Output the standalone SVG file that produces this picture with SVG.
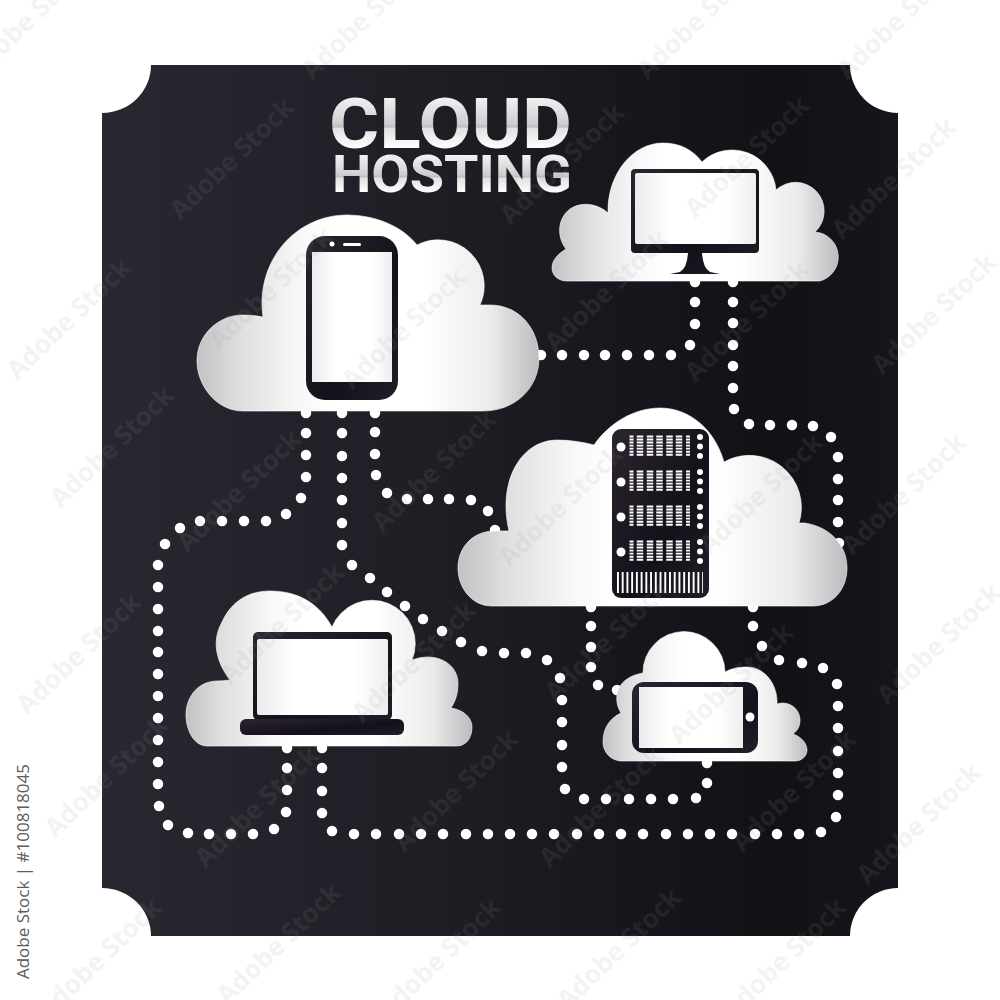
<svg xmlns="http://www.w3.org/2000/svg" xmlns:xlink="http://www.w3.org/1999/xlink" width="1000" height="1000" viewBox="0 0 1000 1000">
<style>
.cloud{fill:url(#cg);stroke:#fff;stroke-width:.6}
.dev{fill:url(#dg)}
.scr{fill:url(#sg)}
.dots{fill:none;stroke:#fff;stroke-width:10.5;stroke-linecap:round}
.title{font-family:Roboto,"Liberation Sans",sans-serif;font-weight:700;fill:url(#tg)}
.wm{font-family:"Open Sans","Liberation Sans",sans-serif;font-weight:700;font-size:26px;fill:#999;opacity:.11;text-anchor:middle}
.wh{fill:#fff}
.bars{stroke:#fff;fill:none;stroke-dasharray:1.9 1.15}
</style>
<defs>
<linearGradient id="bg" x1="0" x2="1" y1="0" y2="0"><stop offset="0" stop-color="#2b2731"/><stop offset=".45" stop-color="#1f1c24"/><stop offset=".85" stop-color="#121116"/><stop offset="1" stop-color="#17151b"/></linearGradient>
<linearGradient id="cg" x1="0" x2="1" y1="0" y2="0"><stop offset="0" stop-color="#c2c1c4"/><stop offset=".12" stop-color="#dedede"/><stop offset=".3" stop-color="#f8f8f8"/><stop offset=".4" stop-color="#fff"/><stop offset=".66" stop-color="#fff"/><stop offset=".86" stop-color="#ebebeb"/><stop offset="1" stop-color="#bcbbbe"/></linearGradient>
<linearGradient id="dg" x1="0" x2="1" y1="0" y2="1"><stop offset="0" stop-color="#2a2530"/><stop offset=".6" stop-color="#15111a"/><stop offset="1" stop-color="#221e28"/></linearGradient>
<linearGradient id="sg" x1="0" x2="1" y1="0" y2="0"><stop offset="0" stop-color="#ececee"/><stop offset=".3" stop-color="#fff"/><stop offset=".75" stop-color="#fff"/><stop offset="1" stop-color="#eeeeef"/></linearGradient>
<linearGradient id="tg" x1="0" x2="0" y1="0" y2="1"><stop offset=".1" stop-color="#fbfbfb"/><stop offset=".5" stop-color="#cfcfd1"/><stop offset=".54" stop-color="#bdbdbf"/><stop offset=".56" stop-color="#e2e2e2"/><stop offset=".8" stop-color="#fff"/><stop offset=".95" stop-color="#b0b0b2"/></linearGradient>
<g id="rack">
<path class="bars" stroke-width="4" d="M631.5 435.5V456"/><path class="bars" stroke-width="6.5" d="M640 435.5V456"/><path class="bars" stroke-width="6.5" d="M650 435.5V456"/><path class="bars" stroke-width="6.5" d="M659.5 435.5V456"/><path class="bars" stroke-width="6.5" d="M669.5 435.5V456"/><path class="bars" stroke-width="6.5" d="M679 435.5V456"/><path class="bars" stroke-width="4" d="M688 435.5V456"/>
<circle class="wh" cx="621" cy="447" r="4.5"/><circle class="wh" cx="700" cy="437" r="3"/><circle class="wh" cx="700" cy="446.500" r="3"/><circle class="wh" cx="700" cy="456" r="3"/>
</g>
</defs>
<rect width="1000" height="1000" fill="#fff"/>
<path d="M151 65H850A48 48 0 0 0 898 113V888A48 48 0 0 0 850 936H151A49 48 0 0 0 102 888V113A49 48 0 0 0 151 65Z" fill="url(#bg)"/>
<g id="title">
<text class="title" x="329" y="148" font-size="71" textLength="243" lengthAdjust="spacingAndGlyphs">CLOUD</text>
<text class="title" x="332" y="192" font-size="52" textLength="240" lengthAdjust="spacingAndGlyphs">HOSTING</text>
</g>
<g id="connectors" class="dots">
<path id="c-phone-monitor" d="M541 355h0M562 355h0M584 355h0M605 355h0M627 355h0M649 355h0M671 355h0M690 345h0M695 324h0M695 302h0M695 282h0"/>
<path id="c-monitor-server" d="M733 282h0M733 302h0M733 323h0M733 345h0M733 366h0M733 388h0M734 409h0M749 424h0M770 425h0M792 425h0M813 426h0M831 437h0M838 457h0M838 479h0M838 500h0M838 522h0M839 543h0"/>
<path id="c-phone-laptop" d="M306 413h0M306 433h0M306 455h0M306 477h0M301 498h0M286 514h0M266 521h0M244 521h0M222 521h0M200 521h0M180 528h0M165 544h0M158 565h0M158 587h0M158 609h0M158 631h0M158 652h0M158 674h0M158 696h0M158 718h0M158 740h0M158 762h0M158 784h0M159 806h0M168 825h0M188 833h0M209 834h0M231 834h0M253 834h0M274 829h0M286 812h0M287 790h0M287 768h0M287 748h0"/>
<path id="c-phone-tablet" d="M342 413h0M342 433h0M342 456h0M342 478h0M342 500h0M342 523h0M342 545h0M352 565h0M370 578h0M387 592h0M405 606h0M423 619h0M442 631h0M461 642h0M482 651h0M504 653h0M526 653h0M547 660h0M560 678h0M562 700h0M562 722h0M562 745h0M562 767h0M565 789h0M584 799h0M606 799h0M629 799h0M651 799h0M673 799h0M696 798h0M707 783h0M707 763h0"/>
<path id="c-phone-server" d="M375 413h0M375 432h0M375 454h0M376 475h0M387 493h0M407 499h0M428 499h0M449 499h0M471 500h0M488 511h0M495 530h0"/>
<path id="c-server-tablet" d="M591 607h0M591 626h0M591 647h0M591 667h0M598 685h0M617 690h0"/>
<path id="c-server-laptop" d="M753 607h0M753 626h0M762 646h0M779 660h0M802 663h0M823 668h0M837 684h0M838 706h0M838 728h0M838 751h0M838 773h0M838 795h0M836 817h0M821 832h0M799 834h0M777 834h0M755 834h0M732 834h0M710 834h0M688 834h0M666 834h0M643 834h0M621 834h0M599 834h0M577 834h0M554 834h0M532 834h0M510 834h0M488 834h0M466 834h0M443 834h0M421 834h0M399 834h0M376 834h0M354 834h0M332 831h0M322 813h0M322 791h0M322 768h0M322 748h0"/>
</g>
<g id="node-phone">
<path class="cloud" d="M243 411C216 411 197 385 197 361C197 335 218 315 243 315Q253 315 263 317C255 262 295 215 347 215C375 215 402 226 417 245A46 46 0 0 1 480 305H490C520 305 539 330 539 358C539 388 515 411 483 411Z"/>
<rect class="dev" x="306" y="236" width="92" height="164" rx="19"/>
<rect class="scr" x="312" y="252" width="80" height="130"/>
<rect class="wh" x="343" y="243" width="18" height="3" rx="1.500"/>
<circle class="wh" cx="332" cy="244" r="2.500"/>
</g>
<g id="node-monitor">
<path class="cloud" d="M567 281C558 281 552 275 552 268C552 260 558 254 566 249C556 236 558 218 570 209C582 201 598 204 608 213C607 175 632 143 663 143C680 143 693 150 702 162A44 44 0 0 1 776 190A28 28 0 1 1 815 232A25 25 0 0 1 820 281Z"/>
<path class="dev" d="M635 169H755Q759 169 759 173V249Q759 253 755 253H702Q703 268 710 272L720 274H670L680 272Q687 268 688 253H635Q631 253 631 249V173Q631 169 635 169Z"/>
<rect class="scr" x="635" y="173" width="121" height="71" rx="2"/>
</g>
<g id="node-server">
<path class="cloud" d="M492 606C472 606 458 588 458 568C458 548 472 531 495 531H509C497 480 522 440 557 440C570 440 583 442 594 445C610 422 635 408 660 408C690 408 715 430 724 462A52 52 0 0 1 799 523H805C830 527 847 545 847 568C847 590 832 606 813 606Z"/>
<rect class="dev" x="612" y="429" width="97" height="169" rx="9"/>
<use href="#rack"/><use href="#rack" y="35"/><use href="#rack" y="70"/><use href="#rack" y="105"/>
<path d="M617 582.500H703" stroke="#fff" stroke-width="21" stroke-dasharray="1.900 2.830" fill="none"/>
</g>
<g id="node-laptop">
<path class="cloud" d="M207 746C194 746 186 730 186 715C186 695 200 681 217 681Q224 681 230 680C215 660 212 640 222 622C232 600 250 591 270 591C300 591 320 605 332 627A42 42 0 0 1 412 660Q420 657 427 657C447 657 458 670 458 683C458 693 456 700 451 708C464 710 472 718 472 727C472 738 466 746 457 746Z"/>
<rect class="dev" x="253" y="632" width="139" height="88" rx="5"/>
<rect class="scr" x="257" y="639" width="131" height="76" rx="2"/>
<rect class="dev" x="240" y="719" width="164" height="16" rx="6"/>
</g>
<g id="node-tablet">
<path class="cloud" d="M622 761C611 761 603 752 603 742C603 728 610 718 621 713C616 705 616 697 618 690C622 680 632 675 643 673A41 41 0 0 1 725 672C732 668 740 667 747 667C765 667 778 685 777 704C790 700 800 710 800 720C800 726 798 730 793 734C802 737 807 744 807 750C807 756 802 761 795 761Z"/>
<rect class="dev" x="632" y="682" width="126" height="71" rx="12"/>
<rect class="scr" x="639" y="687" width="104" height="61"/>
<circle class="wh" cx="750" cy="717" r="4.500"/>
</g>
<g id="watermark">
<text class="wm" transform="translate(35 25) rotate(-44)">Adobe Stock</text>
<text class="wm" transform="translate(370 25) rotate(-44)">Adobe Stock</text>
<text class="wm" transform="translate(705 25) rotate(-44)">Adobe Stock</text>
<text class="wm" transform="translate(905 25) rotate(-44)">Adobe Stock</text>
<text class="wm" transform="translate(238 165) rotate(-44)">Adobe Stock</text>
<text class="wm" transform="translate(568 170) rotate(-44)">Adobe Stock</text>
<text class="wm" transform="translate(753 163) rotate(-44)">Adobe Stock</text>
<text class="wm" transform="translate(900 185) rotate(-44)">Adobe Stock</text>
<text class="wm" transform="translate(75 325) rotate(-44)">Adobe Stock</text>
<text class="wm" transform="translate(277 295) rotate(-44)">Adobe Stock</text>
<text class="wm" transform="translate(410 335) rotate(-44)">Adobe Stock</text>
<text class="wm" transform="translate(613 297) rotate(-44)">Adobe Stock</text>
<text class="wm" transform="translate(753 327) rotate(-44)">Adobe Stock</text>
<text class="wm" transform="translate(940 320) rotate(-44)">Adobe Stock</text>
<text class="wm" transform="translate(118 453) rotate(-44)">Adobe Stock</text>
<text class="wm" transform="translate(245 497) rotate(-44)">Adobe Stock</text>
<text class="wm" transform="translate(440 477) rotate(-44)">Adobe Stock</text>
<text class="wm" transform="translate(567 512) rotate(-44)">Adobe Stock</text>
<text class="wm" transform="translate(767 500) rotate(-44)">Adobe Stock</text>
<text class="wm" transform="translate(910 500) rotate(-44)">Adobe Stock</text>
<text class="wm" transform="translate(85 660) rotate(-44)">Adobe Stock</text>
<text class="wm" transform="translate(288 630) rotate(-44)">Adobe Stock</text>
<text class="wm" transform="translate(420 668) rotate(-44)">Adobe Stock</text>
<text class="wm" transform="translate(613 647) rotate(-44)">Adobe Stock</text>
<text class="wm" transform="translate(737 690) rotate(-44)">Adobe Stock</text>
<text class="wm" transform="translate(945 650) rotate(-44)">Adobe Stock</text>
<text class="wm" transform="translate(113 783) rotate(-44)">Adobe Stock</text>
<text class="wm" transform="translate(263 813) rotate(-44)">Adobe Stock</text>
<text class="wm" transform="translate(462 797) rotate(-44)">Adobe Stock</text>
<text class="wm" transform="translate(607 813) rotate(-44)">Adobe Stock</text>
<text class="wm" transform="translate(800 797) rotate(-44)">Adobe Stock</text>
<text class="wm" transform="translate(925 830) rotate(-44)">Adobe Stock</text>
<text class="wm" transform="translate(105 965) rotate(-44)">Adobe Stock</text>
<text class="wm" transform="translate(285 950) rotate(-44)">Adobe Stock</text>
<text class="wm" transform="translate(445 965) rotate(-44)">Adobe Stock</text>
<text class="wm" transform="translate(625 955) rotate(-44)">Adobe Stock</text>
<text class="wm" transform="translate(790 965) rotate(-44)">Adobe Stock</text>
</g>
<text id="stock-id" transform="translate(29 764) rotate(-90)" text-anchor="end" font-family="'Open Sans','Liberation Sans',sans-serif" font-size="17" fill="#5c5c5c">Adobe Stock | #100818045</text>
</svg>
